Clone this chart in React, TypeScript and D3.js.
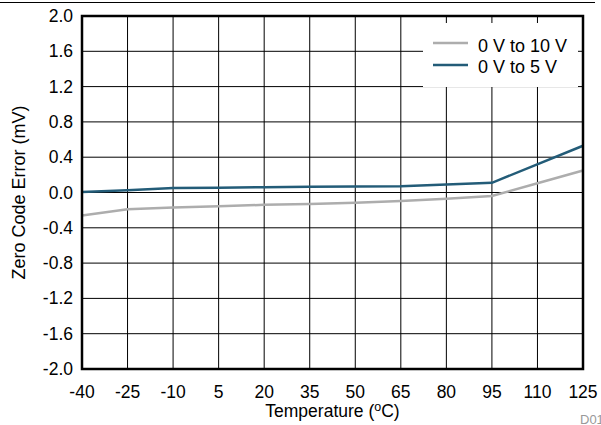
import React from "react";
import * as d3 from "d3";

const temps = [-40, -25, -10, 5, 20, 35, 50, 65, 80, 95, 110, 125];
const xTicks = [-40, -25, -10, 5, 20, 35, 50, 65, 80, 95, 110, 125];
const yTicks = [2.0, 1.6, 1.2, 0.8, 0.4, 0.0, -0.4, -0.8, -1.2, -1.6, -2.0];
const range10V = [-0.26, -0.19, -0.17, -0.155, -0.14, -0.13, -0.115, -0.095, -0.07, -0.04, 0.105, 0.25];
const temps5V = [-40, -25, -10, 5, 20, 35, 50, 65, 80, 95, 125];
const range5V = [0.005, 0.025, 0.05, 0.055, 0.06, 0.065, 0.068, 0.07, 0.09, 0.11, 0.53];
const seriesNames = ["0 V to 10 V", "0 V to 5 V"];

const W = 601, H = 425;
const L = 82, R = 583, T = 16, B = 369;
const font = "Liberation Sans, Arial, sans-serif";

export default function App() {
  const x = d3.scaleLinear().domain([-40, 125]).range([L, R]);
  const y = d3.scaleLinear().domain([-2, 2]).range([B, T]);
  const line = d3.line<[number, number]>().x(d => x(d[0])).y(d => y(d[1]));
  const d10 = line(temps.map((t, i) => [t, range10V[i]] as [number, number])) || "";
  const d5 = line(temps5V.map((t, i) => [t, range5V[i]] as [number, number])) || "";
  const gray = "#adadad";
  const blue = "#235c78";
  return (
    <svg width={W} height={H} style={{ position: "absolute", left: 0, top: 0, background: "#fff" }}>
      <rect x={0} y={0} width={W} height={H} fill="#fff" />
      <line x1={0} x2={595} y1={2.5} y2={2.5} stroke="#000" strokeWidth={1} />
      {xTicks.map(t => (
        <line key={"gx" + t} x1={x(t)} x2={x(t)} y1={T} y2={B} stroke="#000" strokeWidth={1} />
      ))}
      {yTicks.map(t => (
        <line key={"gy" + t} x1={L} x2={R} y1={y(t)} y2={y(t)} stroke="#000" strokeWidth={1} />
      ))}
      <rect x={423} y={23} width={155} height={64} fill="#fff" />
      <path d={d10} fill="none" stroke={gray} strokeWidth={2.5} />
      <path d={d5} fill="none" stroke={blue} strokeWidth={2.5} />
      <rect x={L} y={T} width={R - L} height={B - T} fill="none" stroke="#000" strokeWidth={2.5} />
      {yTicks.map(t => (
        <text key={"ty" + t} x={73} y={y(t) + 6} textAnchor="end" fontFamily={font} fontSize={17.5} fill="#000">
          {d3.format(".1f")(t).replace("−", "-")}
        </text>
      ))}
      {xTicks.map(t => (
        <text key={"tx" + t} x={x(t)} y={397.5} textAnchor="middle" fontFamily={font} fontSize={17.5} fill="#000">
          {String(t)}
        </text>
      ))}
      <text x={(L + R) / 2} y={417} textAnchor="middle" fontFamily={font} fontSize={17.5} fill="#000">
        Temperature (<tspan dy={-6} fontSize={12.5}>o</tspan><tspan dy={6}>C)</tspan>
      </text>
      <text transform={`translate(25,${(T + B) / 2}) rotate(-90)`} textAnchor="middle" fontFamily={font} fontSize={18} fill="#000">
        Zero Code Error (mV)
      </text>
      <line x1={433} x2={468} y1={43} y2={43} stroke={gray} strokeWidth={2.5} />
      <text x={478} y={51.5} fontFamily={font} fontSize={18} fill="#000">{seriesNames[0]}</text>
      <line x1={433} x2={468} y1={65} y2={65} stroke={blue} strokeWidth={2.5} />
      <text x={478} y={73} fontFamily={font} fontSize={18} fill="#000">{seriesNames[1]}</text>
      <text x={580} y={424} fontFamily={font} fontSize={13} fill="#999">D01</text>
    </svg>
  );
}
